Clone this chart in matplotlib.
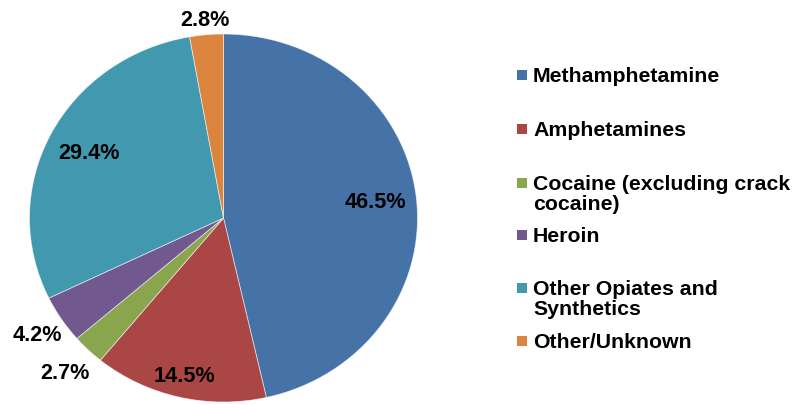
import numpy as np
import matplotlib.pyplot as plt
from matplotlib.patches import Rectangle

plt.rcParams['font.family'] = ['Liberation Sans', 'DejaVu Sans']

# Data
labels = ["Methamphetamine", "Amphetamines", "Cocaine (excluding crack\ncocaine)",
          "Heroin", "Other Opiates and\nSynthetics", "Other/Unknown"]
shares = [46.5, 14.5, 2.7, 4.2, 29.4, 2.8]
pct_text = ["46.5%", "14.5%", "2.7%", "4.2%", "29.4%", "2.8%"]
colors = ["#4572A7", "#AA4643", "#89A54E", "#71588F", "#4198AF", "#DB843D"]

# label distance from centre (fraction of radius) for each slice
lab_r = [0.79, 0.88, 1.17, 1.15, 0.78, 1.085]

W, H = 794, 406
fig = plt.figure(figsize=(W / 100, H / 100), dpi=100)

# pie is slightly stretched (ellipse) like the original image
cx, cy, rx, ry = 223.5, 219.0, 194.0, 184.0
ax = fig.add_axes([(cx - rx) / W, (H - cy - ry) / H, 2 * rx / W, 2 * ry / H])
wedges, _ = ax.pie(shares, colors=colors, startangle=90, counterclock=False,
                   radius=1, wedgeprops=dict(edgecolor=(1, 1, 1, 0.6), linewidth=0.6))
ax.set_aspect('auto')
ax.set_xlim(-1, 1)
ax.set_ylim(-1, 1)
ax.axis('off')

for w, txt, r in zip(wedges, pct_text, lab_r):
    ang = np.deg2rad((w.theta1 + w.theta2) / 2)
    ax.text(r * np.cos(ang), r * np.sin(ang), txt, ha='center', va='center',
            fontsize=15.6, fontweight='bold', color='black', clip_on=False)

# legend (drawn by hand to match Excel spacing)
lax = fig.add_axes([0, 0, 1, 1])
lax.set_xlim(0, W)
lax.set_ylim(H, 0)
lax.axis('off')
leg_y = [76, 130, 184, 236, 289, 342]
for lab, col, y in zip(labels, colors, leg_y):
    lax.add_patch(Rectangle((517, y - 5), 10, 10, facecolor=col, edgecolor='none'))
    lax.text(533, y - 9, lab, ha='left', va='top', fontsize=15.3, fontweight='bold',
             linespacing=1.05)

fig.savefig("out.png", dpi=100)
